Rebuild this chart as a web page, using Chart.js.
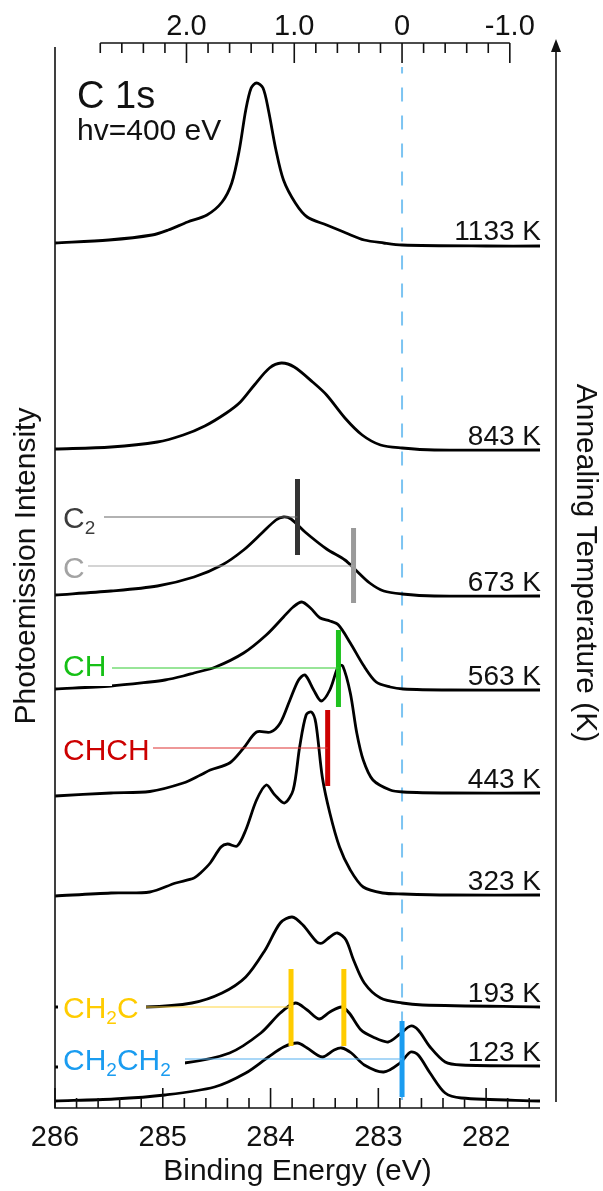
<!DOCTYPE html>
<html>
<head>
<meta charset="utf-8">
<script src="https://cdn.jsdelivr.net/npm/chart.js"></script>
<style>
  html, body { margin: 0; padding: 0; background: #fff; }
  canvas { display: block; }
</style>
</head>
<body>
<canvas id="xps" width="603" height="1191"></canvas>
<script>
// ---- data ----
// binding energy (eV) and intensity above each spectrum's own baseline
const energy1133 = [286.0, 285.5, 285.1, 284.95, 284.77, 284.59, 284.45, 284.36, 284.29, 284.23, 284.18, 284.13, 284.07, 284.02, 283.95, 283.88, 283.77, 283.66, 283.48, 283.3, 283.13, 282.95, 282.78, 282.0, 281.5];
const int1133 = [2, 5, 10, 15, 23, 30, 43, 62, 95, 135, 157, 162, 157, 135, 95, 65, 42, 28, 20, 12, 5, 2, 0, -1, -1];

const energy843 = [286.0, 285.48, 285.05, 284.81, 284.61, 284.41, 284.28, 284.15, 284.01, 283.90, 283.78, 283.61, 283.48, 283.31, 283.15, 282.98, 282.78, 282.48, 281.5];
const int843 = [1, 3, 8, 15, 24, 37, 48, 65, 82, 87, 83, 68, 55, 32, 15, 5, 2, 0, 0];

const energy673 = [286.0, 285.48, 285.05, 284.71, 284.45, 284.25, 284.08, 283.95, 283.88, 283.81, 283.68, 283.48, 283.31, 283.21, 283.08, 282.95, 282.78, 282.48, 281.5];
const int673 = [1, 5, 10, 19, 31, 46, 63, 76, 79, 77, 64, 47, 36, 26, 13, 5, 2, 0, 0];

const energy563 = [286.0, 285.48, 285.12, 284.98, 284.81, 284.71, 284.51, 284.25, 284.04, 283.88, 283.79, 283.71, 283.63, 283.54, 283.45, 283.37, 283.26, 283.14, 283.02, 282.89, 282.77, 282.34, 281.5];
const int563 = [1, 4, 8, 10, 14, 17, 23, 37, 55, 73, 83, 88, 82, 72, 69, 65, 47, 25, 8, 3, 1, 0, 0];

const energy443 = [286.0, 285.48, 285.12, 284.81, 284.65, 284.56, 284.38, 284.25, 284.13, 284.0, 283.91, 283.82, 283.74, 283.68, 283.60, 283.53, 283.45, 283.37, 283.33, 283.26, 283.20, 283.14, 283.05, 282.89, 282.77, 282.34, 281.5];
const int443 = [-3, 0, 1.5, 10, 18, 23, 30, 45, 61, 61, 70, 93, 113, 118, 103, 92, 103, 127, 127, 100, 60, 33, 13, 3, 1, 0, 0];

const energy323 = [286.0, 285.48, 285.12, 284.88, 284.71, 284.65, 284.56, 284.46, 284.40, 284.31, 284.23, 284.13, 284.04, 283.96, 283.87, 283.79, 283.73, 283.67, 283.62, 283.58, 283.52, 283.45, 283.36, 283.26, 283.14, 282.96, 282.77, 282.34, 281.5];
const int323 = [-1, 2, 3, 12, 17, 22, 32, 48, 51, 49, 65, 95, 110, 100, 92, 105, 148, 180, 183, 172, 118, 82, 48, 25, 8, 2, 1, 0, 0];

const energy193 = [286.0, 285.16, 284.73, 284.45, 284.23, 284.05, 283.91, 283.80, 283.70, 283.57, 283.52, 283.45, 283.38, 283.30, 283.23, 283.13, 282.98, 282.78, 282.59, 281.5];
const int193 = [0, 0, 4, 14, 30, 57, 84, 90, 82, 65, 64, 70, 74, 67, 47, 24, 9, 4, 2, 0];

const energy123 = [286.0, 285.3, 284.80, 284.38, 284.09, 283.91, 283.77, 283.66, 283.55, 283.45, 283.34, 283.27, 283.16, 283.05, 282.91, 282.80, 282.70, 282.63, 282.52, 282.38, 282.23, 281.5];
const int123 = [-1, 0, 3, 13, 33, 53, 63, 56, 47, 54, 59, 53, 36, 29, 24, 32, 40, 36, 19, 4, 1, 0];

const energyLow = [286.0, 285.45, 284.98, 284.52, 284.23, 284.02, 283.88, 283.75, 283.66, 283.52, 283.41, 283.34, 283.25, 283.13, 282.95, 282.80, 282.70, 282.63, 282.52, 282.38, 282.23, 281.5];
const intLow = [0, 2, 6, 14, 28, 44, 54, 58, 53, 44, 51, 53, 48, 36, 29, 38, 49, 46, 28, 8, 3, 0];

const tempLabels = ['1133 K', '843 K', '673 K', '563 K', '443 K', '323 K', '193 K', '123 K', ''];
const offsets = [863, 658, 512, 418, 315, 213, 101, 42, 7];   // vertical stacking offsets
const energies = [energy1133, energy843, energy673, energy563, energy443, energy323, energy193, energy123, energyLow];
const intensities = [int1133, int843, int673, int563, int443, int323, int193, int123, intLow];

// component positions (eV)
const species = ['C2', 'C', 'CH', 'CHCH', 'CH2C', 'CH2CH2'];
const speciesEnergy = [[283.75], [283.23], [283.37], [283.47], [283.81, 283.32], [282.78]];

// axes
const bottomTicks = [286, 285, 284, 283, 282];
const topRef = 282.78;                       // zero of the relative energy scale
const topTicks = [2, 1, 0, -1];
const topTickLabels = ['2.0', '1.0', '0', '-1.0'];

// ---- styling / layout ----
const FONT = '"Liberation Sans", Arial, Helvetica, sans-serif';
const speciesStyle = {
  C2:     { bar: '#333333', text: '#3c3c3c', line: '#666666', top: 629, bot: 553, row: 591, base: 580, from: 104 },
  C:      { bar: '#9a9a9a', text: '#a3a3a3', line: '#aaaaaa', top: 580, bot: 505, row: 542, base: 530, from: 88 },
  CH:     { bar: '#1ec21e', text: '#16c016', line: '#33cc33', top: 478, bot: 401, row: 440, base: 432, from: 112 },
  CHCH:   { bar: '#cc0000', text: '#cc0000', line: '#dd3333', top: 398, bot: 322, row: 360, base: 348, from: 153 },
  CH2C:   { bar: '#ffcc00', text: '#ffcc00', line: '#ffd640', top: 139, bot: 62, row: 101, base: 90, from: 146 },
  CH2CH2: { bar: '#1a9cf0', text: '#1a9cf0', line: '#55b0f0', top: 87, bot: 11, row: 49, base: 38, from: 185 }
};

const datasets = [];
species.forEach(function (name) {
  const st = speciesStyle[name];
  speciesEnergy[species.indexOf(name)].forEach(function (e) {
    datasets.push({
      data: [{ x: e, y: st.top }, { x: e, y: st.bot }],
      borderColor: st.bar, borderWidth: 5, borderCapStyle: 'butt', pointRadius: 0, tension: 0
    });
  });
});
energies.forEach(function (en, i) {
  datasets.push({
    data: en.map(function (e, j) { return { x: e, y: offsets[i] + intensities[i][j] }; }),
    borderColor: '#000', borderWidth: 2.8, pointRadius: 0,
    tension: 0.3, borderJoinStyle: 'round'
  });
});
// reference line at the CH2CH2 / zero position
datasets.push({
  data: [{ x: topRef, y: 1041 }, { x: topRef, y: 8 }],
  borderColor: '#7cc4f2', borderWidth: 2, borderDash: [14, 14], borderDashOffset: 7.5, pointRadius: 0, tension: 0
});

function drawLabel(ctx, text, x, base, color) {
  // digits become subscripts
  let cx = x;
  ctx.fillStyle = color;
  ctx.textAlign = 'left';
  ctx.textBaseline = 'alphabetic';
  text.split(/(\d)/).forEach(function (part) {
    if (!part) return;
    if (/\d/.test(part)) {
      ctx.font = '19px ' + FONT;
      ctx.fillText(part, cx, base + 6);
    } else {
      ctx.font = '30px ' + FONT;
      ctx.fillText(part, cx, base);
    }
    cx += ctx.measureText(part).width;
  });
  return cx;
}

const decor = {
  id: 'decor',
  afterDraw: function (chart) {
    const ctx = chart.ctx;
    const xs = chart.scales.x, ys = chart.scales.y;
    const a = chart.chartArea;
    ctx.save();

    // species labels with connectors
    species.forEach(function (name, i) {
      const st = speciesStyle[name];
      const rowPx = ys.getPixelForValue(st.row);
      ctx.fillStyle = '#fff';
      ctx.fillRect(58, rowPx - 22, st.from - 58, 40);
      drawLabel(ctx, name, 63, ys.getPixelForValue(st.base), st.text);
      ctx.strokeStyle = st.line;
      ctx.lineWidth = 1.2;
      ctx.beginPath();
      ctx.moveTo(st.from, rowPx);
      ctx.lineTo(xs.getPixelForValue(speciesEnergy[i][0]), rowPx);
      ctx.stroke();
    });

    // temperature labels
    ctx.fillStyle = '#111';
    ctx.font = '28px ' + FONT;
    ctx.textAlign = 'right';
    ctx.textBaseline = 'alphabetic';
    tempLabels.forEach(function (t, i) {
      if (t) ctx.fillText(t, 541, ys.getPixelForValue(offsets[i] + 5));
    });

    ctx.strokeStyle = '#111';
    ctx.lineWidth = 1.6;
    // left axis
    ctx.beginPath();
    ctx.moveTo(a.left, 47);
    ctx.lineTo(a.left, a.bottom);
    // bottom axis
    ctx.lineTo(a.right, a.bottom);
    ctx.stroke();
    // bottom ticks (pointing into the plot)
    for (let k = 0; k <= 22; k++) {
      const v = 286 - k * 0.2;
      const px = xs.getPixelForValue(v);
      const len = (k % 5 === 0) ? 20 : 10;
      ctx.beginPath();
      ctx.moveTo(px, a.bottom);
      ctx.lineTo(px, a.bottom - len);
      ctx.stroke();
    }
    ctx.fillStyle = '#111';
    ctx.font = '29px ' + FONT;
    ctx.textAlign = 'center';
    bottomTicks.forEach(function (v) {
      ctx.fillText(String(v), xs.getPixelForValue(v), 1146);
    });
    ctx.font = '30px ' + FONT;
    ctx.fillText('Binding Energy (eV)', (a.left + a.right) / 2, 1180);

    // top relative-energy axis
    const topY = 43;
    ctx.beginPath();
    ctx.moveTo(xs.getPixelForValue(topRef + 2.8), topY);
    ctx.lineTo(xs.getPixelForValue(topRef - 1.0), topY);
    ctx.stroke();
    for (let k = 0; k <= 19; k++) {
      const v = 2.8 - k * 0.2;
      const px = xs.getPixelForValue(topRef + v);
      const len = (Math.abs(v - Math.round(v)) < 0.01) ? 20 : 10;
      ctx.beginPath();
      ctx.moveTo(px, topY);
      ctx.lineTo(px, topY + len);
      ctx.stroke();
    }
    ctx.font = '29px ' + FONT;
    topTicks.forEach(function (v, i) {
      ctx.fillText(topTickLabels[i], xs.getPixelForValue(topRef + v), 35);
    });

    // annealing temperature arrow
    const ax = 556;
    ctx.beginPath();
    ctx.moveTo(ax, 1102);
    ctx.lineTo(ax, 50);
    ctx.stroke();
    ctx.beginPath();
    ctx.moveTo(ax, 39);
    ctx.lineTo(ax - 5, 52);
    ctx.lineTo(ax + 5, 52);
    ctx.closePath();
    ctx.fill();

    // axis titles
    ctx.font = '30px ' + FONT;
    ctx.save();
    ctx.translate(35, 566);
    ctx.rotate(-Math.PI / 2);
    ctx.fillText('Photoemission Intensity', 0, 0);
    ctx.restore();
    ctx.save();
    ctx.translate(577, 563);
    ctx.rotate(Math.PI / 2);
    ctx.fillText('Annealing Temperature (K)', 0, 0);
    ctx.restore();

    // in-plot annotation
    ctx.textAlign = 'left';
    ctx.font = '38px ' + FONT;
    ctx.fillText('C 1s', 77, 108);
    ctx.font = '30px ' + FONT;
    ctx.fillText('hv=400 eV', 77, 140);

    ctx.restore();
  }
};

new Chart(document.getElementById('xps'), {
  type: 'line',
  data: { datasets: datasets },
  options: {
    responsive: false,
    animation: false,
    devicePixelRatio: 1,
    layout: { padding: { left: 55, right: 63, top: 43, bottom: 83 } },
    plugins: { legend: { display: false }, tooltip: { enabled: false } },
    elements: { point: { radius: 0 } },
    scales: {
      x: { type: 'linear', min: 281.5, max: 286, reverse: true, display: false },
      y: { min: 0, max: 1065, display: false }
    }
  },
  plugins: [decor]
});
</script>
</body>
</html>
